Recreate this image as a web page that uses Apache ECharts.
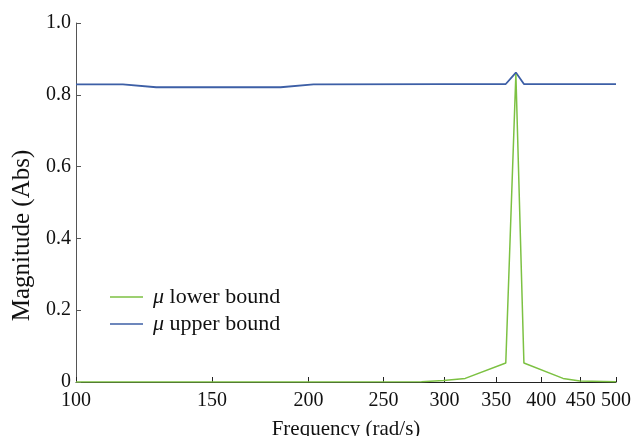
<!DOCTYPE html>
<html><head><meta charset="utf-8">
<script src="https://cdn.jsdelivr.net/npm/echarts@6/dist/echarts.min.js"></script>
<style>html,body{margin:0;padding:0;background:#fff}#c{width:633px;height:436px}</style>
</head><body><div id="c"></div>
<script>
var freqUpper = [100, 115, 127, 184, 203, 300, 360, 371, 380, 500];
var valUpper  = [0.829, 0.829, 0.821, 0.821, 0.829, 0.830, 0.830, 0.862, 0.830, 0.830];
var freqLower = [100, 200, 280, 299, 319, 360, 371, 380, 427, 449, 500];
var valLower  = [0.0, 0.0, 0.0005, 0.004, 0.010, 0.053, 0.858, 0.053, 0.010, 0.003, 0.001];
var xTicks = [100, 150, 200, 250, 300, 350, 400, 450, 500];
var seriesNames = ['lower bound', 'upper bound'];

function pairs(xs, ys){ return xs.map(function(x,i){ return [x, ys[i]]; }); }
var FONT = '"Liberation Serif", "Times New Roman", serif';
var GREEN = '#7cc142', BLUE = '#3d5fa6';
var chart = echarts.init(document.getElementById('c'), null, {renderer:'canvas'});
chart.setOption({
  animation: false,
  backgroundColor: '#fff',
  grid: {left: 76, right: 17, top: 23, bottom: 54, containLabel: false, outerBoundsMode: 'none'},
  legend: {
    orient: 'vertical', left: 105, top: 281, itemGap: 5,
    itemWidth: 33, itemHeight: 1.5, icon: 'rect',
    data: seriesNames,
    formatter: function(n){ return '{m|\u03bc} ' + n; },
    textStyle: {fontFamily: FONT, fontSize: 22, lineHeight: 22, color: '#111', padding: [0,0,0,5],
      rich: {m: {fontFamily: FONT, fontStyle: 'italic', fontSize: 22, lineHeight: 22, color: '#111'}}}
  },
  xAxis: {
    type: 'log', logBase: 10, min: 100, max: 500,
    name: 'Frequency (rad/s)', nameLocation: 'middle', nameGap: 37,
    nameTextStyle: {fontFamily: FONT, fontSize: 21, color: '#111'},
    axisLine: {lineStyle: {color: '#222', width: 1}},
    axisTick: {inside: true, length: 5, customValues: xTicks, lineStyle: {color: '#222'}},
    axisLabel: {customValues: xTicks, fontFamily: FONT, fontSize: 20, color: '#111', margin: 9},
    splitLine: {show: false}, minorTick: {show: false}
  },
  yAxis: {
    type: 'value', min: 0, max: 1, interval: 0.2,
    name: 'Magnitude (Abs)', nameLocation: 'middle', nameGap: 41,
    nameTextStyle: {fontFamily: FONT, fontSize: 25, color: '#111', padding: [0, 66, 0, 0]},
    axisLine: {show: true, lineStyle: {color: '#555', width: 1}},
    axisTick: {show: true, inside: true, length: 5, lineStyle: {color: '#555'}},
    axisLabel: {fontFamily: FONT, fontSize: 20, color: '#111', margin: 5,
      formatter: function(v){ return v === 0 ? '0' : v.toFixed(1); }},
    splitLine: {show: false}
  },
  series: [
    {name: seriesNames[0], type: 'line', data: pairs(freqLower, valLower), symbol: 'none',
     lineStyle: {color: GREEN, width: 1.5}, itemStyle: {color: GREEN}, z: 3},
    {name: seriesNames[1], type: 'line', data: pairs(freqUpper, valUpper), symbol: 'none',
     lineStyle: {color: BLUE, width: 1.8}, itemStyle: {color: BLUE}, z: 2}
  ]
});
</script></body></html>
